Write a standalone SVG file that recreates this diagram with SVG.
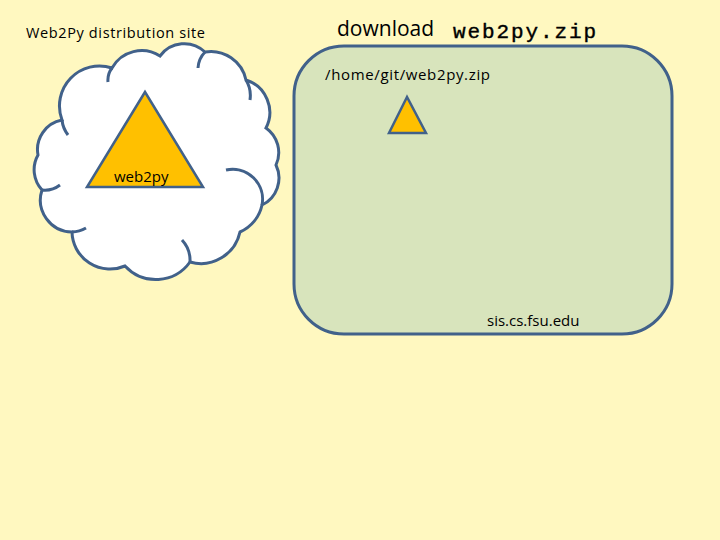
<svg xmlns="http://www.w3.org/2000/svg" width="720" height="540" viewBox="0 0 720 540">
<style>
.s{font-family:"Open Sans","Liberation Sans",sans-serif;fill:#000}
.ln{fill:none;stroke:#41618A;stroke-width:3}
.tri{fill:#FFC000;stroke:#41618A;stroke-width:2.5}
</style>
<rect width="720" height="540" fill="#FFF8C0"/>
<text class="s" x="26" y="38" font-size="14.5" textLength="179">Web2Py distribution site</text>
<text class="s" x="337" y="36" font-size="21">download</text>
<text x="453" y="38" font-size="21" font-family="Liberation Mono,monospace" stroke="#000" stroke-width="0.4" textLength="143">web2py.zip</text>
<g id="cloud">
<path d="M62,120 A40,40 0 0 1 112,68 A34,34 0 0 1 160,56 A30,30 0 0 1 205,52 A36,36 0 0 1 246,80 A34,34 0 0 1 266,128 A30,30 0 0 1 276,165 A30,30 0 0 1 262,205 A38,38 0 0 1 240,232 A40,40 0 0 1 190,262 A42,42 0 0 1 125,266 A38,38 0 0 1 72,232 A32,32 0 0 1 42,190 A30,30 0 0 1 38,155 A30,30 0 0 1 62,120 Z" fill="#fff" stroke="#41618A" stroke-width="3"/>
<path class="ln" d="M62,120 A30,30 0 0 0 68,135 M112,68 A20,20 0 0 0 108,82 M205,52 A25,25 0 0 0 198,68 M246,80 A30,30 0 0 1 250,100 M262,205 A30,30 0 0 0 226,170 M190,262 A30,30 0 0 0 182,240 M72,232 A30,30 0 0 0 86,228 M42,190 A25,25 0 0 0 60,185"/>
<polygon class="tri" points="145,92 87,187 203,187"/>
<text class="s" x="114" y="182" font-size="15">web2py</text>
</g>
<g id="server">
<rect x="294" y="46" width="378" height="288" rx="50" fill="#D8E4BC" stroke="#41618A" stroke-width="3"/>
<text class="s" x="325" y="80" font-size="15" textLength="165">/home/git/web2py.zip</text>
<polygon class="tri" points="407,97 389,133 426,133"/>
<text class="s" x="487" y="326" font-size="15">sis.cs.fsu.edu</text>
</g>
<g id="connectors"/>
</svg>
